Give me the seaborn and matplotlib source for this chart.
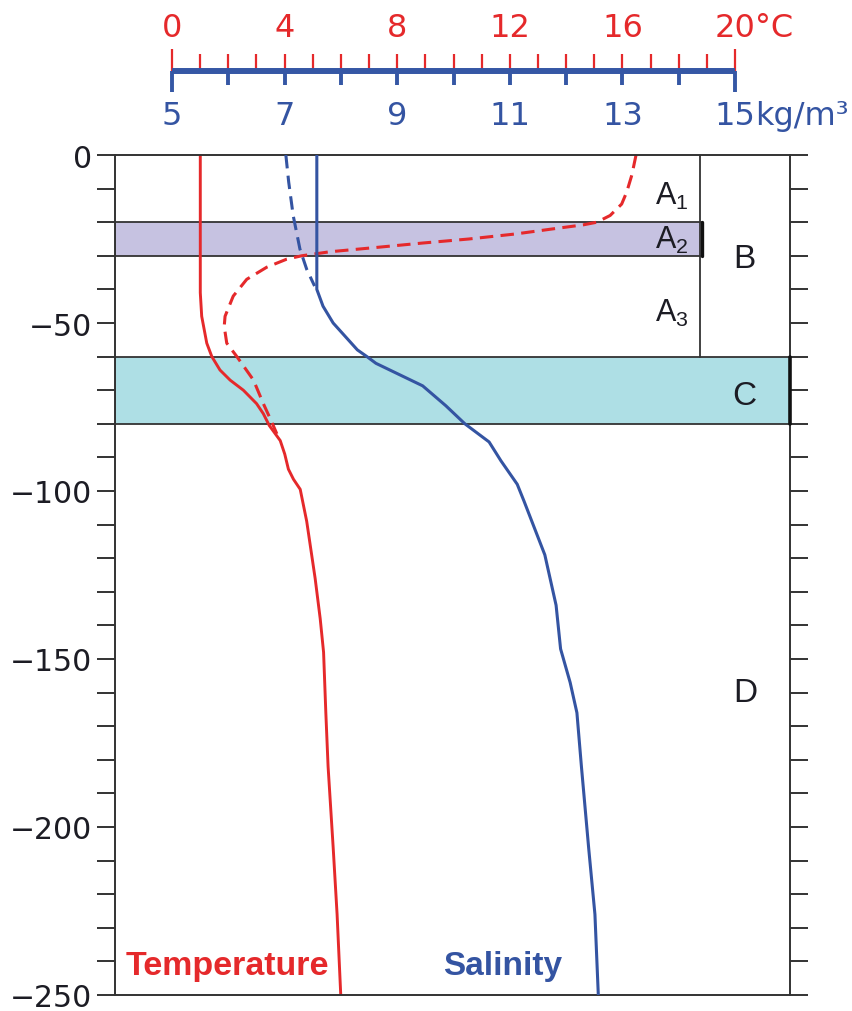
import numpy as np
import matplotlib
matplotlib.use("Agg")
import matplotlib.pyplot as plt
from matplotlib.ticker import MultipleLocator
import seaborn as sns

# ---- vertical profiles (depth in m, negative downward) ----
temp_depth = [0, -41, -48, -56, -60, -64, -67, -70, -74, -77, -80.5, -85, -89, -93.5,
              -96.5, -99.5, -109, -126, -138, -148, -166, -182, -206, -226, -250]
temp_value = [1.0, 1.0, 1.05, 1.23, 1.41, 1.7, 2.06, 2.53, 3.0, 3.24, 3.45, 3.84, 4.0, 4.13,
              4.31, 4.55, 4.78, 5.08, 5.26, 5.38, 5.46, 5.54, 5.72, 5.86, 5.99]

temp_surf_depth = [0, -6, -11, -14.6, -18, -20, -20.8, -21.7, -23.5, -25, -26.2, -27.5, -28.8,
                   -30, -31, -33.4, -37, -42, -48, -51, -56, -60, -67, -74, -79.5, -83]
temp_surf_value = [16.48, 16.33, 16.15, 15.97, 15.56, 15.09, 14.6, 13.78, 12.2, 10.54, 8.9, 7.27,
                   5.6, 4.6, 4.07, 3.36, 2.65, 2.17, 1.88, 1.85, 1.94, 2.3, 2.89, 3.24, 3.54, 3.72]

sal_depth = [0, -40, -45, -50, -58, -60, -62, -68.7, -74.6, -80, -85.4, -91, -98, -103,
             -119, -134, -147, -157, -166, -182, -206.5, -226, -250]
sal_value = [7.57, 7.57, 7.68, 7.86, 8.29, 8.46, 8.62, 9.45, 9.86, 10.2, 10.63, 10.84, 11.13,
             11.25, 11.62, 11.82, 11.9, 12.07, 12.19, 12.27, 12.4, 12.51, 12.57]

sal_surf_depth = [0, -8, -18, -28, -34, -39]
sal_surf_value = [7.02, 7.07, 7.15, 7.27, 7.39, 7.53]

# ---- layers (m) ----
layer_A2 = (-30, -20)
layer_C = (-80, -60)
layer_B = (-60, 0)

# ---- scales ----
temp_ticks = [0, 4, 8, 12, 16, 20]
temp_range = (0, 20)
sal_ticks = [5, 7, 9, 11, 13, 15]
sal_range = (5, 15)
depth_range = (-250, 0)

RED = "#e5292b"
BLUE = "#3454a2"
BAR_BLUE = "#3557a5"
PURPLE = "#c6c2e1"
CYAN = "#aedfe5"
EDGE = "#333333"
INK = "#1c1c24"
SCALE_FONT = "DejaVu Sans"

sns.set_style("ticks")
plt.rcParams["font.family"] = ["Liberation Sans", "DejaVu Sans"]
plt.rcParams["mathtext.fontset"] = "custom"
plt.rcParams["mathtext.rm"] = "Liberation Sans"

W, H = 852, 1012
fig = plt.figure(figsize=(W / 100, H / 100), dpi=100)


def px_rect(left, top, right, bottom):
    return [left / W, 1 - bottom / H, (right - left) / W, (bottom - top) / H]


# ---------------- main profile panel ----------------
ax = fig.add_axes(px_rect(115, 156, 790, 996))
axs = ax.twiny()
t_lim = (-2.03, 21.95)
ax.set_xlim(*t_lim)
ax.set_ylim(*depth_range)
axs.set_xlim(5 + t_lim[0] / 2, 5 + t_lim[1] / 2)

for s in ax.spines.values():
    s.set_color(EDGE)
    s.set_linewidth(1.4)
for s in axs.spines.values():
    s.set_visible(False)
ax.set_xticks([])
axs.set_xticks([])

ax.yaxis.set_major_locator(MultipleLocator(50))
ax.yaxis.set_minor_locator(MultipleLocator(10))
ax.tick_params(axis="y", which="both", direction="out", length=12.8, width=1.4,
               color=EDGE, left=True, right=True, labelright=False)
ax.tick_params(axis="y", which="major", labelsize=21.5, labelcolor=INK, pad=3.6,
               labelfontfamily=SCALE_FONT)

# layer shading
ax.axhspan(*layer_A2, xmin=0, xmax=0.8696, facecolor=PURPLE, edgecolor=EDGE, lw=1.3, zorder=0.5)
ax.axhspan(*layer_C, xmin=0, xmax=1, facecolor=CYAN, edgecolor=EDGE, lw=1.3, zorder=0.5)
yt = ax.get_yaxis_transform()
ax.plot([0.867, 0.867], list(layer_B), transform=yt, color=EDGE, lw=1.3, zorder=0.6)
ax.plot([0.8696, 0.8696], list(layer_A2), transform=yt, color="#111111", lw=2.4, zorder=0.7)
ax.plot([1, 1], list(layer_C), transform=yt, color="#111111", lw=2.6, zorder=3, clip_on=False)

dash = (0, (4.4, 2.4))
sns.lineplot(x=temp_value, y=temp_depth, ax=ax, color=RED, lw=2.1, sort=False,
             orient="y", estimator=None, zorder=2)
sns.lineplot(x=temp_surf_value, y=temp_surf_depth, ax=ax, color=RED, lw=2.2, sort=False,
             orient="y", estimator=None, linestyle=dash, zorder=2)
sns.lineplot(x=sal_value, y=sal_depth, ax=axs, color=BLUE, lw=2.2, sort=False,
             orient="y", estimator=None, zorder=2)
sns.lineplot(x=sal_surf_value, y=sal_surf_depth, ax=axs, color=BLUE, lw=2.2, sort=False,
             orient="y", estimator=None, linestyle=dash, zorder=2)
ax.set_xlabel("")
ax.set_ylabel("")
axs.set_xlabel("")
axs.set_ylabel("")

# layer names
for txt, x, y, size in [(r"A$_\mathregular{1}$", 17.76, -14.7, 22),
                        (r"A$_\mathregular{2}$", 17.76, -27.7, 22),
                        (r"A$_\mathregular{3}$", 17.76, -49.3, 22),
                        ("B", 20.33, -33.3, 24),
                        ("C", 20.33, -74.2, 24),
                        ("D", 20.38, -162.5, 24)]:
    ax.text(x, y, txt, ha="center", va="baseline", fontsize=size, color=INK, zorder=4)

ax.text(-1.67, -243.8, "Temperature", color=RED, fontsize=24.5, fontweight="bold",
        ha="left", va="baseline")
axs.text(9.81, -243.8, "Salinity", color=BLUE, fontsize=24, fontweight="bold",
         ha="left", va="baseline")

# ---------------- dual scale bar on top ----------------
ax_t = fig.add_axes([172 / W, 1 - 72.3 / H, 563 / W, 1e-4])
ax_s = ax_t.twiny()

ax_t.set_xlim(*temp_range)
ax_t.set_ylim(0, 1)
ax_t.patch.set_visible(False)
for name, s in ax_t.spines.items():
    s.set_visible(name == "top")
ax_t.spines["top"].set_color(BAR_BLUE)
ax_t.spines["top"].set_linewidth(4.3)
ax_t.spines["top"].set_capstyle("butt")
ax_t.spines["top"].set_zorder(5)
ax_t.yaxis.set_visible(False)
ax_t.xaxis.set_ticks_position("top")

t_major = [temp_range[0], temp_range[1]]
ax_t.set_xticks(t_major, labels=[str(v) for v in t_major])
t_minor = list(range(temp_range[0] + 1, temp_range[1]))
ax_t.set_xticks(t_minor, labels=[str(v) if v in temp_ticks else "" for v in t_minor], minor=True)
ax_t.tick_params(axis="x", which="both", top=True, bottom=False, labeltop=True,
                 labelbottom=False, color=RED, labelcolor=RED, labelsize=23, width=1.6,
                 direction="out", labelfontfamily=SCALE_FONT)
ax_t.tick_params(axis="x", which="major", length=15.8, pad=4.7)
ax_t.tick_params(axis="x", which="minor", length=12.2, pad=8.3)
ax_t.annotate("°C", xy=(temp_range[1], 1), xycoords=("data", "axes fraction"),
              xytext=(14.6, 20.5), textcoords="offset points", ha="left", va="bottom",
              color=RED, fontsize=23, family=SCALE_FONT)

ax_s.set_xlim(*sal_range)
ax_s.patch.set_visible(False)
for s in ax_s.spines.values():
    s.set_visible(False)
ax_s.yaxis.set_visible(False)
ax_s.xaxis.set_ticks_position("bottom")
s_major = [sal_range[0], sal_range[1]]
ax_s.set_xticks(s_major, labels=[str(v) for v in s_major])
s_minor = list(range(sal_range[0] + 1, sal_range[1]))
ax_s.set_xticks(s_minor, labels=[str(v) if v in sal_ticks else "" for v in s_minor], minor=True)
ax_s.tick_params(axis="x", which="both", top=False, bottom=True, labeltop=False,
                 labelbottom=True, color=BAR_BLUE, labelcolor=BLUE, labelsize=23, width=2.8,
                 direction="out", labelfontfamily=SCALE_FONT)
ax_s.tick_params(axis="x", which="major", length=15.1, pad=5.6)
ax_s.tick_params(axis="x", which="minor", length=10.1, pad=10.6)
ax_s.annotate("kg/m³", xy=(sal_range[1], 0), xycoords=("data", "axes fraction"),
              xytext=(14.6, -20.7), textcoords="offset points", ha="left", va="top",
              color=BLUE, fontsize=23, family=SCALE_FONT)

fig.savefig("out.png", dpi=100)
